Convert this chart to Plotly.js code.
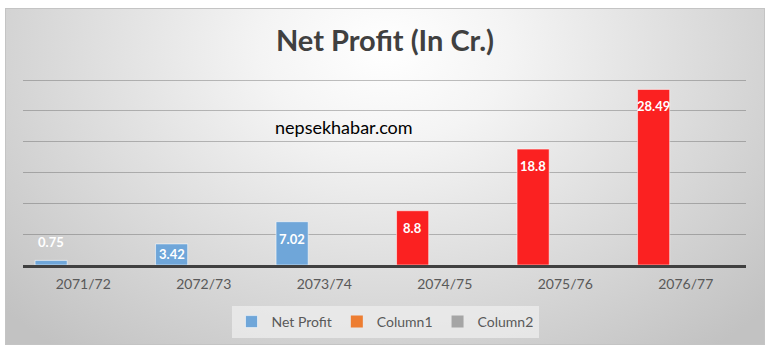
<!DOCTYPE html>
<html><head><meta charset="utf-8">
<script src="https://cdn.plot.ly/plotly-3.0.1.min.js"></script>
<style>
html,body{margin:0;padding:0;background:#fff;width:771px;height:354px;overflow:hidden}
#frame{position:absolute;left:5px;top:8px;width:760px;height:337px;
background:radial-gradient(ellipse 68% 115% at 50% 12%, #ffffff 0%, #f4f4f4 24%, #c2c2c2 100%);
box-shadow: inset 0 0 0 1px #c4c4c4;}
#chart{position:absolute;left:0;top:0;width:760px;height:337px}
</style></head>
<body>
<div id="frame"><div id="chart"></div></div>
<script>
const years = ['2071/72','2072/73','2073/74','2074/75','2075/76','2076/77'];
const netProfit = [0.75, 3.42, 7.02, 8.8, 18.8, 28.49];
const column1 = [null, null, null, null, null, null];
const column2 = [null, null, null, null, null, null];
const barColors = ['#6fa6d9','#6fa6d9','#6fa6d9','#fb2121','#fb2121','#fb2121'];
const seriesNames = ['Net Profit','Column1','Column2'];
const titleText = 'Net Profit (In Cr.)';
const watermark = 'nepsekhabar.com';

const W = 760, H = 337;
const M = {l:18, r:19, t:69, b:80};
const yMax = 30.5;
const plotW = W - M.l - M.r, plotH = H - M.t - M.b;
const pxPerUnit = plotH / yMax;
const bargap = 0.2;
const catW = plotW / years.length;
const barW = catW * (1 - bargap) / 3;

const traces = [
  {type:'bar', name:seriesNames[0], x:years, y:netProfit,
   marker:{color:barColors, line:{color:'rgba(255,255,255,0.55)', width:1}}, hoverinfo:'none'},
  {type:'bar', name:seriesNames[1], x:years, y:column1, marker:{color:'#ed7d31'}, hoverinfo:'none'},
  {type:'bar', name:seriesNames[2], x:years, y:column2, marker:{color:'#a5a5a5'}, hoverinfo:'none'}
];

const annotations = netProfit.map((v, i) => {
  const h = v * pxPerUnit;
  const shift = h < 14 ? 18 : -Math.min(17, h / 2);
  return {xref:'x', yref:'y', x:years[i], y:v, text:String(v), showarrow:false,
          xanchor:'center', yanchor:'middle',
          xshift:-barW, yshift:shift, font:{family:'Lato, sans-serif', size:13, color:'#ffffff', weight:700}};
});
annotations.push({xref:'paper', yref:'paper', x:(339 - M.l) / plotW, y:1 - (119 - M.t) / plotH,
  xanchor:'center', yanchor:'middle',
  text:watermark, showarrow:false, font:{family:'Lato, sans-serif', size:18, color:'#000000'}});

const layout = {
  width:W, height:H,
  paper_bgcolor:'rgba(0,0,0,0)', plot_bgcolor:'rgba(0,0,0,0)',
  margin:M,
  font:{family:'Lato, sans-serif', color:'#595959'},
  title:{text:titleText, font:{family:'Lato, sans-serif', size:29, color:'#404040', weight:700},
         x:0.5, xref:'container', xanchor:'center', y:1 - 33 / H, yref:'container', yanchor:'middle'},
  barmode:'group', bargap:bargap, bargroupgap:0,
  xaxis:{type:'category', showline:true, linecolor:'#404040', linewidth:3, ticks:'',
         tickfont:{family:'Lato, sans-serif', size:14, color:'#595959'}, showgrid:false, zeroline:false,
         ticklabelstandoff:4, fixedrange:true},
  yaxis:{range:[0, yMax], dtick:5, showticklabels:false, showgrid:true,
         gridcolor:'rgba(80,80,80,0.36)', gridwidth:1, zeroline:false, showline:false, fixedrange:true},
  legend:{orientation:'h', x:0.5, xanchor:'center', xref:'container', y:1 - 298 / H, yref:'container',
          yanchor:'top', bgcolor:'rgba(238,238,238,0.75)', font:{family:'Lato, sans-serif', size:14, color:'#595959'},
          itemwidth:30, traceorder:'normal'},
  annotations:annotations,
  showlegend:true
};

Plotly.newPlot('chart', traces, layout, {displayModeBar:false, staticPlot:true});
</script>
</body></html>
